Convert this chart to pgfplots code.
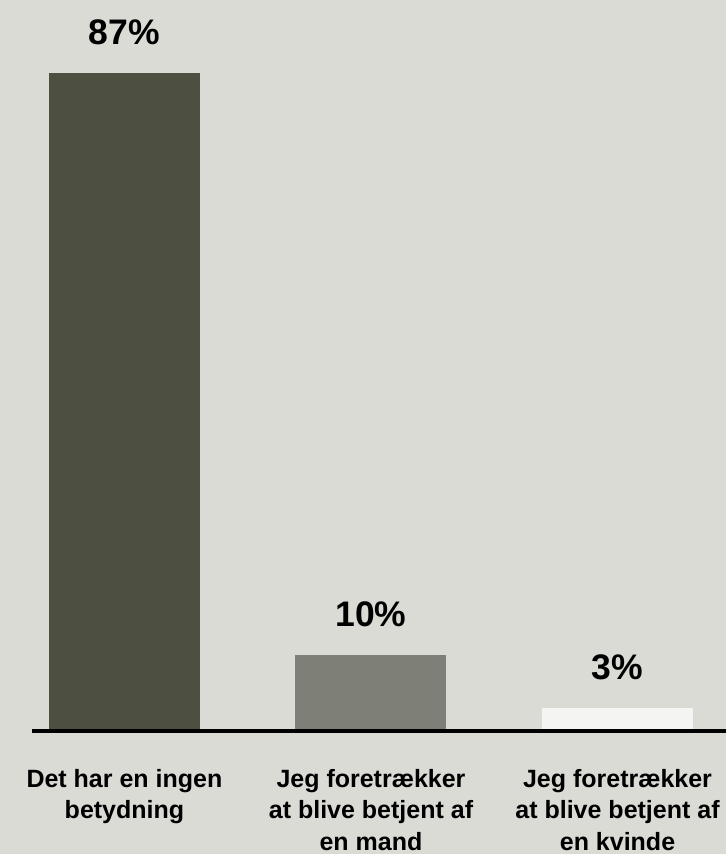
\documentclass[border=0pt]{standalone}
\usepackage{pgfplots}
\pgfplotsset{compat=1.18}
\usepackage{fontspec}
\setmainfont{Liberation Sans}
\definecolor{bgc}{RGB}{218,219,213}
\definecolor{barA}{RGB}{77,79,65}
\definecolor{barB}{RGB}{126,127,118}
\definecolor{barC}{RGB}{244,244,242}
\begin{document}
\begin{tikzpicture}
\fill[bgc] (0,0) rectangle (726pt,854pt);
\begin{axis}[
  at={(32pt,123pt)}, anchor=south west,
  scale only axis,
  width=694pt, height=718.5pt,
  xmin=-0.375, xmax=2.44,
  ymin=0, ymax=95,
  axis on top,
  axis x line*=bottom,
  axis y line=none,
  axis line style={line width=3.2pt, black},
  xtick={0,1,2},
  xticklabels={{Det har en ingen\\betydning},{Jeg foretrækker\\at blive betjent af\\en mand},{Jeg foretrækker\\at blive betjent af\\en kvinde}},
  major tick length=0pt,
  xticklabel style={align=center, inner sep=0pt, anchor=north, yshift=-38pt, font=\fontsize{25}{31.5}\selectfont\bfseries},
  ybar, bar width=151pt, bar shift=0pt,
  /pgf/number format/assume math mode=true,
  nodes near coords={\pgfmathprintnumber{\pgfplotspointmeta}\%},
  every node near coord/.append style={anchor=center, yshift=41pt, font=\fontsize{35.5}{40}\selectfont\bfseries, text=black},
]
\addplot[fill=barA, draw=none] coordinates {(0,87)};
\addplot[fill=barB, draw=none] coordinates {(1,10)};
\addplot[fill=barC, draw=none] coordinates {(2,3)};
\end{axis}
\pgfresetboundingbox
\useasboundingbox (0,0) rectangle (726pt,854pt);
\end{tikzpicture}
\end{document}
